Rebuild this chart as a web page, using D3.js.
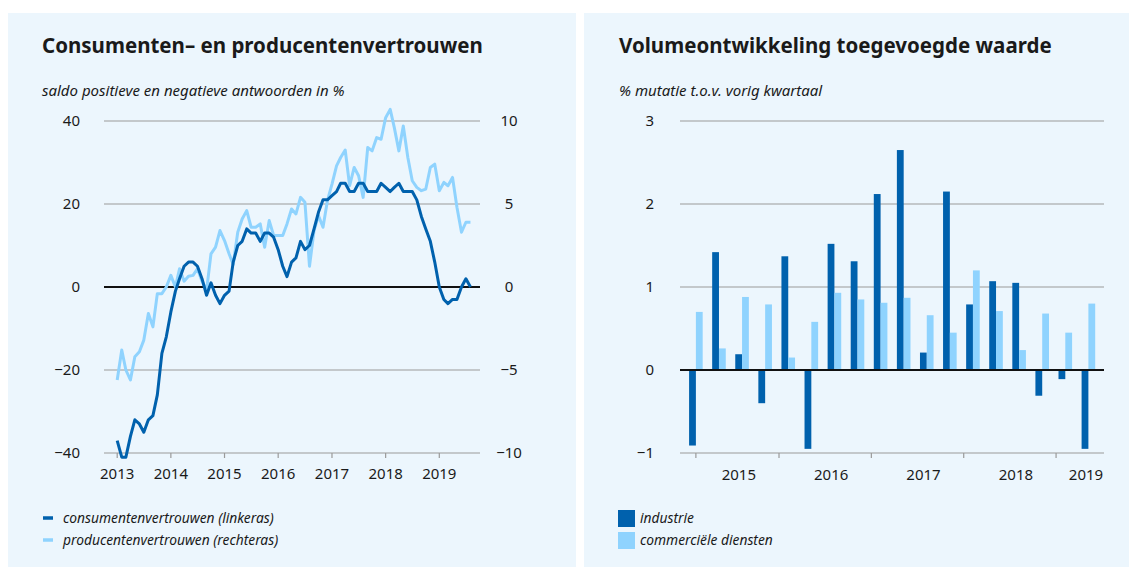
<!DOCTYPE html>
<html>
<head>
<meta charset="utf-8">
<script src="https://cdn.jsdelivr.net/npm/d3@7"></script>
<style>
  body { margin: 0; background: #ffffff; }
  svg text { font-family: "Noto Sans", sans-serif; fill: #1a1a1a; }
</style>
</head>
<body>
<div id="chart"></div>
<script>
// data: monthly, Jan 2013 - Aug 2019
const startMonth = new Date(2013, 0, 1)
const consumenten = [
  -37, -41, -41, -36, -32, -33, -35, -32, -31, -26, -16, -12,
  -6, -1, 2, 5, 6, 6, 5, 2, -2, 1, -2, -4,
  -2, -1, 6, 10, 11, 14, 13, 13, 11, 13, 13, 12,
  9, 5, 2.5, 6, 7, 11, 9, 10, 14, 18, 21, 21,
  22, 23, 25, 25, 23, 23, 25, 25, 23, 23, 23, 25,
  24, 23, 24, 25, 23, 23, 23, 21, 17, 14, 11, 6,
  0, -3, -4, -3, -3, 0, 2, 0
]
const producenten = [
  -5.6, -3.8, -5.0, -5.6, -4.2, -3.9, -3.2, -1.6, -2.4, -0.4, -0.4, 0.0,
  0.7, 0.0, 1.1, 0.35, 0.65, 0.7, 1.1, 0.35, -0.2, 2.0, 2.4, 3.4,
  2.8, 2.0, 1.35, 3.3, 4.1, 4.6, 3.6, 3.6, 3.8, 2.4, 4.0, 3.1,
  3.1, 3.1, 3.8, 4.7, 4.4, 5.4, 5.1, 1.25, 3.4, 4.3, 3.6, 5.2,
  6.2, 7.3, 7.8, 8.25, 6.1, 7.2, 6.7, 5.4, 8.4, 8.2, 9.0, 8.9,
  10.2, 10.7, 9.6, 8.2, 9.7, 7.8, 6.4, 6.0, 5.8, 5.9, 7.2, 7.4,
  5.8, 6.3, 6.1, 6.6, 4.8, 3.3, 3.9, 3.9
]
const lineYears = [2013, 2014, 2015, 2016, 2017, 2018, 2019]
const leftTicks = [-40, -20, 0, 20, 40]
const rightTicks = [-10, -5, 0, 5, 10]

// data: quarterly volume change, 2015 Q1 - 2019 Q2
const quarters = ["2015-1","2015-2","2015-3","2015-4","2016-1","2016-2","2016-3","2016-4",
  "2017-1","2017-2","2017-3","2017-4","2018-1","2018-2","2018-3","2018-4","2019-1","2019-2"]
const industrie = [-0.91, 1.42, 0.19, -0.40, 1.37, -0.95, 1.52, 1.31,
  2.12, 2.65, 0.21, 2.15, 0.79, 1.07, 1.05, -0.31, -0.11, -0.95]
const diensten = [0.70, 0.26, 0.88, 0.79, 0.15, 0.58, 0.93, 0.85,
  0.81, 0.87, 0.66, 0.45, 1.20, 0.71, 0.24, 0.68, 0.45, 0.80]
const barYears = [2015, 2016, 2017, 2018, 2019]
const barTicks = [-1, 0, 1, 2, 3]

const darkBlue = "#0061ad"
const lightBlue = "#8fd3fe"
const panelBg = "#ecf6fd"
const gridGrey = "#9a9a9a"

function drawCharts(){

    const svg = d3.select("#chart")
      .append("svg")
        .attr("width", 1137)
        .attr("height", 572)

    // panels
    svg.append("rect").attr("x", 8).attr("y", 13).attr("width", 568).attr("height", 554).attr("fill", panelBg)
    svg.append("rect").attr("x", 584).attr("y", 13).attr("width", 545).attr("height", 554).attr("fill", panelBg)

    // ---------- left chart: lines ----------
    const left = svg.append("g")

    left.append("text")
        .attr("x", 42).attr("y", 53)
        .style("font-size", "20.5px").style("font-weight", "bold")
        .text("Consumenten– en producentenvertrouwen")
    left.append("text")
        .attr("x", 42).attr("y", 96)
        .style("font-size", "15px").style("font-style", "italic")
        .text("saldo positieve en negatieve antwoorden in %")

    const xTime = d3.scaleTime()
        .domain([new Date(2013, 0, 1), new Date(2019, 0, 1)])
        .range([117.2, 439.3])
    const yLeft = d3.scaleLinear().domain([-40, 40]).range([453, 121])
    const yRight = d3.scaleLinear().domain([-10, 10]).range([453, 121])

    const gx0 = 104, gx1 = 480

    left.selectAll(".grid")
        .data(leftTicks)
        .enter().append("line")
          .attr("x1", gx0).attr("x2", gx1)
          .attr("y1", d => yLeft(d)).attr("y2", d => yLeft(d))
          .attr("stroke", d => d == 0 ? "#111" : gridGrey)
          .attr("stroke-width", d => d == 0 ? 2 : 1.2)

    left.selectAll(".ltick")
        .data(leftTicks)
        .enter().append("text")
          .attr("x", 80).attr("y", d => yLeft(d))
          .attr("dy", "0.35em")
          .attr("text-anchor", "end")
          .style("font-size", "15px")
          .text(d => d < 0 ? "−" + Math.abs(d) : d)

    left.selectAll(".rtick")
        .data(rightTicks)
        .enter().append("text")
          .attr("x", 509).attr("y", d => yRight(d))
          .attr("dy", "0.35em")
          .attr("text-anchor", "middle")
          .style("font-size", "15px")
          .text(d => d < 0 ? "−" + Math.abs(d) : d)

    // x ticks + labels
    left.selectAll(".xt")
        .data(lineYears)
        .enter().append("line")
          .attr("x1", d => xTime(new Date(d, 0, 1))).attr("x2", d => xTime(new Date(d, 0, 1)))
          .attr("y1", yLeft(-40)).attr("y2", yLeft(-40) + 5)
          .attr("stroke", gridGrey).attr("stroke-width", 1.2)
    left.selectAll(".xl")
        .data(lineYears)
        .enter().append("text")
          .attr("x", d => xTime(new Date(d, 0, 1))).attr("y", 479)
          .attr("text-anchor", "middle")
          .style("font-size", "15px")
          .text(d => d)

    const monthDate = i => new Date(startMonth.getFullYear(), startMonth.getMonth() + i, 1)

    const lineLeft = d3.line()
        .x((d, i) => xTime(monthDate(i)))
        .y(d => yLeft(d))
    const lineRight = d3.line()
        .x((d, i) => xTime(monthDate(i)))
        .y(d => yRight(d))

    left.append("path")
        .attr("d", lineRight(producenten))
        .attr("fill", "none")
        .attr("stroke", lightBlue)
        .attr("stroke-width", 3)
        .attr("stroke-linejoin", "round")
    left.append("path")
        .attr("d", lineLeft(consumenten))
        .attr("fill", "none")
        .attr("stroke", darkBlue)
        .attr("stroke-width", 3)
        .attr("stroke-linejoin", "round")

    // legend
    const lineLegend = [
        {label: "consumentenvertrouwen (linkeras)", color: darkBlue},
        {label: "producentenvertrouwen (rechteras)", color: lightBlue}
    ]
    const lg = left.selectAll(".lg")
        .data(lineLegend)
        .enter().append("g")
          .attr("transform", (d, i) => `translate(43, ${518 + i * 22})`)
    lg.append("line")
        .attr("x1", 0).attr("x2", 10).attr("y1", 0).attr("y2", 0)
        .attr("stroke", d => d.color).attr("stroke-width", 3.5)
    lg.append("text")
        .attr("x", 20).attr("y", 0).attr("dy", "0.35em")
        .style("font-size", "13.8px").style("font-style", "italic")
        .text(d => d.label)

    // ---------- right chart: bars ----------
    const right = svg.append("g")

    right.append("text")
        .attr("x", 619).attr("y", 53)
        .style("font-size", "20.5px").style("font-weight", "bold")
        .text("Volumeontwikkeling toegevoegde waarde")
    right.append("text")
        .attr("x", 619).attr("y", 96)
        .style("font-size", "15px").style("font-style", "italic")
        .text("% mutatie t.o.v. vorig kwartaal")

    // fractional-year position of each quarter
    const qTime = q => {
        const [y, k] = q.split("-").map(Number)
        return y + (k - 1) / 4 + 0.1
    }
    const xQ = d3.scaleLinear()
        .domain([2014.928, 2019.519])
        .range([680, 1104])
    const yBar = d3.scaleLinear().domain([-1, 3]).range([453, 121])
    const bw = 6.8

    right.selectAll(".grid")
        .data(barTicks)
        .enter().append("line")
          .attr("x1", xQ.range()[0]).attr("x2", xQ.range()[1])
          .attr("y1", d => yBar(d)).attr("y2", d => yBar(d))
          .attr("stroke", gridGrey).attr("stroke-width", 1.2)

    right.selectAll(".ytl")
        .data(barTicks)
        .enter().append("text")
          .attr("x", 654).attr("y", d => yBar(d))
          .attr("dy", "0.35em")
          .attr("text-anchor", "end")
          .style("font-size", "15px")
          .text(d => d < 0 ? "−" + Math.abs(d) : d)

    const firstCenter = qTime(quarters[0])
    const endYear = xQ.domain()[1]
    right.selectAll(".xt")
        .data(barYears)
        .enter().append("line")
          .attr("x1", d => xQ(Math.max(d, firstCenter))).attr("x2", d => xQ(Math.max(d, firstCenter)))
          .attr("y1", yBar(-1)).attr("y2", yBar(-1) + 5)
          .attr("stroke", gridGrey).attr("stroke-width", 1.2)
    right.selectAll(".xl")
        .data(barYears)
        .enter().append("text")
          .attr("x", d => xQ((d + Math.min(d + 1, endYear)) / 2) + 6)
          .attr("y", 480)
          .attr("text-anchor", "middle")
          .style("font-size", "15px")
          .text(d => d)

    right.selectAll(".bi")
        .data(quarters)
        .enter().append("rect")
          .attr("x", d => xQ(qTime(d)) - bw)
          .attr("width", bw)
          .attr("y", (d, i) => yBar(Math.max(0, industrie[i])))
          .attr("height", (d, i) => Math.abs(yBar(industrie[i]) - yBar(0)))
          .attr("fill", darkBlue)
    right.selectAll(".bd")
        .data(quarters)
        .enter().append("rect")
          .attr("x", d => xQ(qTime(d)))
          .attr("width", bw)
          .attr("y", (d, i) => yBar(Math.max(0, diensten[i])))
          .attr("height", (d, i) => Math.abs(yBar(diensten[i]) - yBar(0)))
          .attr("fill", lightBlue)

    // zero line on top
    right.append("line")
        .attr("x1", xQ.range()[0]).attr("x2", xQ.range()[1])
        .attr("y1", yBar(0)).attr("y2", yBar(0))
        .attr("stroke", "#111").attr("stroke-width", 2)

    const barLegend = [
        {label: "industrie", color: darkBlue},
        {label: "commerciële diensten", color: lightBlue}
    ]
    const bl = right.selectAll(".bl")
        .data(barLegend)
        .enter().append("g")
          .attr("transform", (d, i) => `translate(618, ${510 + i * 22})`)
    bl.append("rect")
        .attr("width", 17).attr("height", 17)
        .attr("fill", d => d.color)
    bl.append("text")
        .attr("x", 22).attr("y", 8.5).attr("dy", "0.35em")
        .style("font-size", "13.8px").style("font-style", "italic")
        .text(d => d.label)
}

drawCharts();
</script>
</body>
</html>
